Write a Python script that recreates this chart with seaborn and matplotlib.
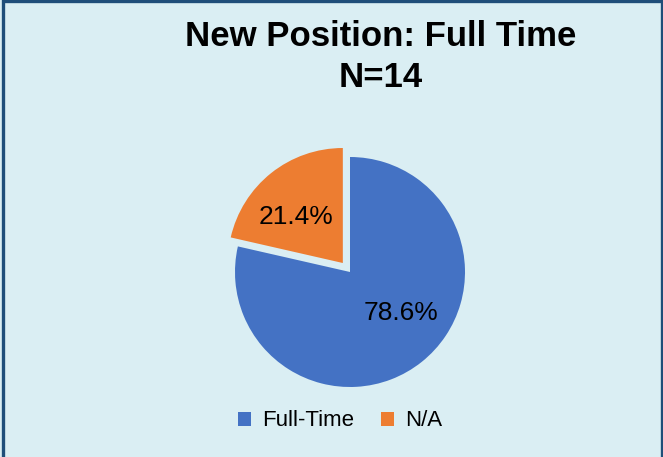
import matplotlib
matplotlib.use("Agg")
import matplotlib.pyplot as plt
import seaborn as sns
from matplotlib.patches import Rectangle

labels = ["Full-Time", "N/A"]
counts = [11, 3]
colors = ["#4472C4", "#ED7D31"]
explode = [0, 0.1]
title = "New Position: Full Time\nN=14"

sns.set_style("white")
plt.rcParams["font.family"] = ["Liberation Sans", "DejaVu Sans"]
plt.rcParams["text.color"] = "black"

bg = "#DAEEF3"
fig = plt.figure(figsize=(6.63, 4.57), dpi=100, facecolor=bg)

# outer border like the Excel chart area
fig.patches.append(Rectangle((0.004, -0.05), 0.994, 1.047, transform=fig.transFigure,
                             fill=False, edgecolor="#1F4E79", linewidth=2.4))

W, H = 663, 457
R = 115
cx, cy = 350, H - 272
half = 1.3 * R
ax = fig.add_axes([(cx - half) / W, (cy - half) / H, 2 * half / W, 2 * half / H])
ax.set_facecolor(bg)

wedges, texts, autotexts = ax.pie(
    counts, colors=colors, explode=explode, startangle=90, counterclock=False,
    autopct="%1.1f%%", pctdistance=0.6,
    wedgeprops=dict(linewidth=0),
    textprops=dict(fontsize=19, color="black"),
)
# Excel puts the labels a bit off the wedge bisector
autotexts[0].set_position((0.44, -0.36))
autotexts[1].set_position((-0.47, 0.48))

ax.set_xlim(-1.3, 1.3)
ax.set_ylim(-1.3, 1.3)
ax.set_aspect("equal")
ax.axis("off")

fig.text(381 / W, 1 - 57 / H, title, ha="center", va="center", fontsize=25,
         fontweight="bold", color="black", linespacing=1.3)

fig.legend(wedges, labels, loc="center", bbox_to_anchor=(340 / W, 1 - 421 / H),
           ncol=2, frameon=False, fontsize=16, handlelength=0.6, handleheight=0.6,
           handletextpad=0.5, columnspacing=1.2, labelcolor="black")

fig.savefig("out.png", dpi=100, facecolor=bg)
